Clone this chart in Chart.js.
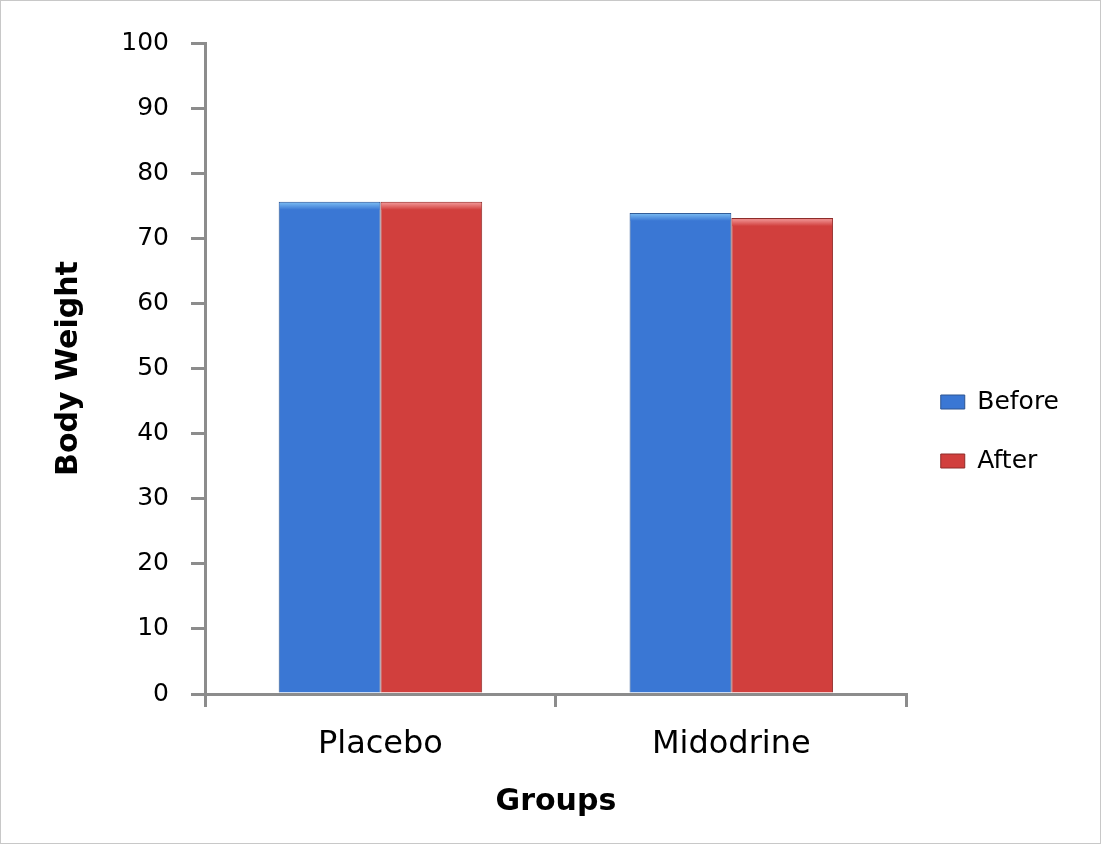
<!DOCTYPE html>
<html lang="en">
<head>
  <meta charset="utf-8">
  <title>Body Weight by Group</title>
  <script src="https://cdn.jsdelivr.net/npm/chart.js@4.4.0/dist/chart.umd.min.js"></script>
  <style>
    html, body { margin: 0; padding: 0; background: #fff; }
    #wrap { position: relative; width: 1101px; height: 844px; box-sizing: border-box; border: 1px solid #c8c8c8; }
  </style>
</head>
<body>
  <div id="wrap">
    <canvas id="chart"></canvas>
  </div>

  <script>
    // data
    var groups = ['Placebo', 'Midodrine'];
    var before = [75.6, 73.9];
    var after = [75.6, 73.1];
    var yTicks = [0, 10, 20, 30, 40, 50, 60, 70, 80, 90, 100];

    var blue = '#3a77d4';
    var red = '#d13f3d';

    // light bevel along the top of each bar, like the office 3d style
    var bevel = {
      id: 'bevel',
      afterDatasetsDraw: function (chart) {
        var ctx = chart.ctx;
        chart.data.datasets.forEach(function (ds, i) {
          var meta = chart.getDatasetMeta(i);
          meta.data.forEach(function (bar) {
            var left = bar.x - bar.width / 2;
            var g = ctx.createLinearGradient(0, bar.y, 0, bar.y + 8);
            g.addColorStop(0, ds.topColor);
            g.addColorStop(1, ds.backgroundColor);
            ctx.save();
            ctx.fillStyle = g;
            ctx.fillRect(left + 1, bar.y + 1, bar.width - 2, 7);
            ctx.restore();
          });
        });
      }
    };

    var ctx = document.getElementById('chart').getContext('2d');
    var chart = new Chart(ctx, {
      type: 'bar',
      data: {
        labels: groups,
        datasets: [{
          label: 'Before',
          data: before,
          backgroundColor: blue,
          borderColor: '#2c5590',
          topColor: '#7fc0f4',
          borderWidth: 1
        }, {
          label: 'After',
          data: after,
          backgroundColor: red,
          borderColor: '#8e2c2a',
          topColor: '#f4a0a0',
          borderWidth: 1
        }]
      },
      options: {
        responsive: true,
        maintainAspectRatio: false,
        animation: false,
        layout: { padding: { left: 10, top: 42, right: 31, bottom: 23 } },
        datasets: {
          bar: { categoryPercentage: 0.58, barPercentage: 1.0 }
        },
        plugins: {
          tooltip: { enabled: false },
          legend: {
            position: 'right',
            labels: {
              boxWidth: 24,
              boxHeight: 14,
              padding: 34,
              color: '#000',
              font: { family: 'DejaVu Sans', size: 25 }
            }
          }
        },
        scales: {
          x: {
            afterFit: function (s) { s.height = 126; },
            grid: {
              offset: true,
              drawOnChartArea: false,
              color: '#8c8c8c',
              lineWidth: 3,
              tickLength: 13
            },
            border: { color: '#8c8c8c', width: 3 },
            ticks: {
              color: '#000',
              padding: 18,
              font: { family: 'DejaVu Sans', size: 32 }
            },
            title: {
              display: true,
              text: 'Groups',
              color: '#000',
              padding: { top: 10, bottom: 0 },
              font: { family: 'DejaVu Sans', size: 30, weight: 'bold' }
            }
          },
          y: {
            min: 0,
            max: 100,
            afterFit: function (s) { s.width = 194; },
            afterBuildTicks: function (s) {
              s.ticks = yTicks.map(function (v) { return { value: v }; });
            },
            grid: {
              drawOnChartArea: false,
              color: '#8c8c8c',
              lineWidth: 3,
              tickLength: 14
            },
            border: { color: '#8c8c8c', width: 3 },
            ticks: {
              color: '#000',
              padding: 22,
              font: { family: 'DejaVu Sans', size: 25 }
            },
            title: {
              display: true,
              text: 'Body Weight',
              color: '#000',
              padding: { top: 40, bottom: 0 },
              font: { family: 'DejaVu Sans', size: 30, weight: 'bold' }
            }
          }
        }
      },
      plugins: [bevel]
    });
  </script>
</body>
</html>
